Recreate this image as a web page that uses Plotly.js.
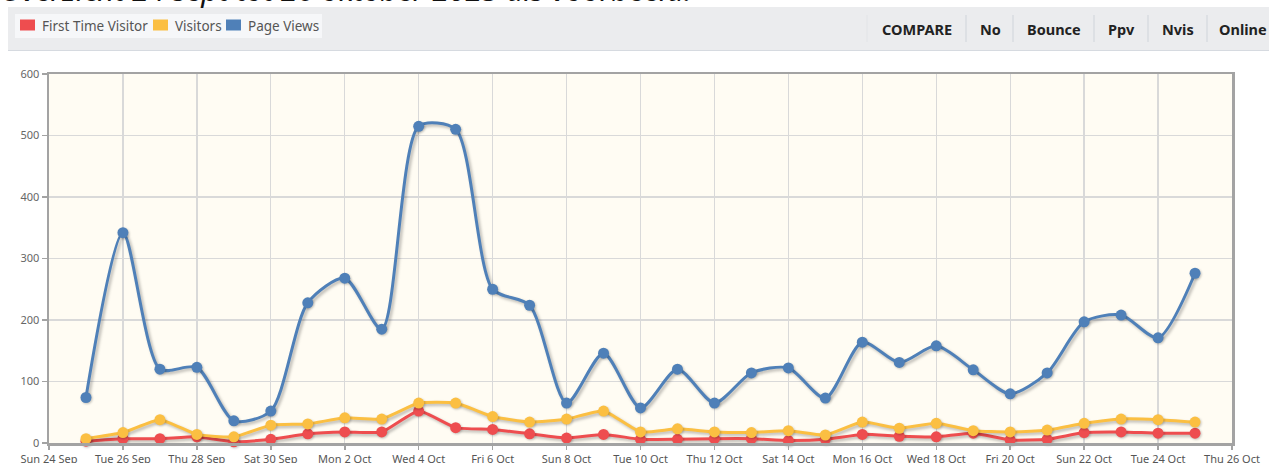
<!DOCTYPE html>
<html>
<head>
<meta charset="utf-8">
<script src="https://cdn.plot.ly/plotly-3.0.1.min.js"></script>
<style>
html,body{margin:0;padding:0;background:#fff;overflow:hidden;}
#chart{width:1269px;height:463px;}
#chart .scatterlayer .js-line{filter:drop-shadow(2px 2px 1.5px rgba(0,0,0,0.28));}
#chart .scatterlayer .points path{filter:drop-shadow(1.5px 1.5px 1px rgba(0,0,0,0.22));}
</style>
</head>
<body>
<div id="chart"></div>
<script>
// ---- data ----
const dates = ["2023-09-25","2023-09-26","2023-09-27","2023-09-28","2023-09-29","2023-09-30",
  "2023-10-01","2023-10-02","2023-10-03","2023-10-04","2023-10-05","2023-10-06","2023-10-07",
  "2023-10-08","2023-10-09","2023-10-10","2023-10-11","2023-10-12","2023-10-13","2023-10-14",
  "2023-10-15","2023-10-16","2023-10-17","2023-10-18","2023-10-19","2023-10-20","2023-10-21",
  "2023-10-22","2023-10-23","2023-10-24","2023-10-25"];
const firstTimeVisitor = [3,7,7,10,2,6,15,18,18,52,25,22,15,8,14,6,6,7,7,4,6,14,11,10,16,5,6,17,18,16,16];
const visitors = [7,17,38,14,10,29,31,41,39,65,65,43,34,39,52,18,23,18,17,20,13,34,24,32,20,18,21,32,39,38,34];
const pageViews = [74,342,120,123,36,52,228,268,185,515,510,250,224,65,146,57,120,65,114,122,73,164,131,158,119,80,114,197,208,171,276];
const seriesNames = ["First Time Visitor","Visitors","Page Views"];
const seriesColors = ["#ee4d4f","#fbbf42","#4f80b8"];
const headerButtons = ["COMPARE","No","Bounce","Ppv","Nvis","Online"];
const titleText = "Overzicht 24 sept tot 26 oktober 2023 als voorbeeld.";

// ---- layout helpers (pixel -> paper) ----
const W = 1269, H = 463, L = 49, R = 1232, T = 74, B = 443;
const px = x => (x - L) / (R - L);
const py = y => (B - y) / (B - T);
const FONT = "Noto Sans, Open Sans, sans-serif";

const allY = [firstTimeVisitor, visitors, pageViews];
const traces = allY.map((ys, i) => ({
  x: dates, y: ys, type: "scatter", mode: "lines+markers", name: seriesNames[i],
  line: {color: seriesColors[i], width: 3, shape: "spline", smoothing: i === 2 ? 0.75 : 0.5},
  marker: {color: seriesColors[i], size: 11},
  hoverinfo: "skip", showlegend: false, cliponaxis: false
}));

const shapes = [
  // header band
  {type:"rect", xref:"paper", yref:"paper", x0:px(8), x1:px(1269), y0:py(50), y1:py(7),
   fillcolor:"#ebecee", line:{width:0}, layer:"below"},
  {type:"line", xref:"paper", yref:"paper", x0:px(8), x1:px(1269), y0:py(50.5), y1:py(50.5),
   line:{color:"#d6dae0", width:1}},
  // legend box
  {type:"rect", xref:"paper", yref:"paper", x0:px(15), x1:px(322), y0:py(38), y1:py(14),
   fillcolor:"#f6f7f9", line:{width:0}, layer:"below"},
];
const annotations = [
  {xref:"paper", yref:"paper", x:px(-2), y:py(12), xanchor:"left", yanchor:"bottom",
   text:"<i>"+titleText+"</i>", showarrow:false,
   font:{family:FONT, size:30, color:"#111"}}
];
// legend swatches + labels
const legX = [20, 153, 226];
legX.forEach((x, i) => {
  shapes.push({type:"rect", xref:"paper", yref:"paper", x0:px(x), x1:px(x+15), y0:py(30.5), y1:py(19.5),
    fillcolor:seriesColors[i], line:{width:0}});
  annotations.push({xref:"paper", yref:"paper", x:px(x+20), y:py(25.5), xanchor:"left", yanchor:"middle",
    text:seriesNames[i], showarrow:false, font:{family:FONT, size:13.5, color:"#555"}});
});
// header buttons
const btnX = [917, 990, 1054, 1121, 1178, 1243];
const sepX = [966, 1013, 1094, 1148, 1207];
headerButtons.forEach((t, i) => {
  annotations.push({xref:"paper", yref:"paper", x:px(btnX[i]), y:py(29), xanchor:"center", yanchor:"middle",
    text:"<b>"+t+"</b>", showarrow:false, font:{family:FONT, size:14.5, color:"#222"}});
});
sepX.forEach(x => shapes.push({type:"line", xref:"paper", yref:"paper", x0:px(x), x1:px(x),
  y0:py(42), y1:py(15), line:{color:"#cfd4da", width:1}}));
shapes.push({type:"line", xref:"paper", yref:"paper", x0:px(867), x1:px(867),
  y0:py(42), y1:py(15), line:{color:"#e2e4e7", width:1}});

const layout = {
  width: W, height: H,
  margin: {l: L, r: W - R, t: T, b: H - B, pad: 0},
  paper_bgcolor: "#ffffff", plot_bgcolor: "#fffcf3",
  showlegend: false,
  xaxis: {
    type: "date", range: ["2023-09-24", "2023-10-26"],
    tick0: "2023-09-24", dtick: 2 * 86400000, tickformat: "%a %-d %b",
    showgrid: true, gridcolor: "#d9d9d9", gridwidth: 1.3,
    showline: true, linecolor: "#a3a3a3", linewidth: 2.5, mirror: true,
    ticks: "outside", ticklen: 4, tickcolor: "#a3a3a3", tickwidth: 1.5,
    tickfont: {family: FONT, size: 11, color: "#555"}, zeroline: false, fixedrange: true
  },
  yaxis: {
    range: [0, 600], dtick: 100,
    showgrid: true, gridcolor: "#d9d9d9", gridwidth: 1.3,
    showline: true, linecolor: "#a3a3a3", linewidth: 2.5, mirror: true,
    ticks: "outside", ticklen: 5, tickcolor: "#a3a3a3", tickwidth: 1.5,
    tickfont: {family: FONT, size: 11, color: "#666"}, zeroline: false, fixedrange: true
  },
  shapes: shapes, annotations: annotations
};

Plotly.newPlot("chart", traces, layout, {displayModeBar: false, staticPlot: true});
</script>
</body>
</html>
